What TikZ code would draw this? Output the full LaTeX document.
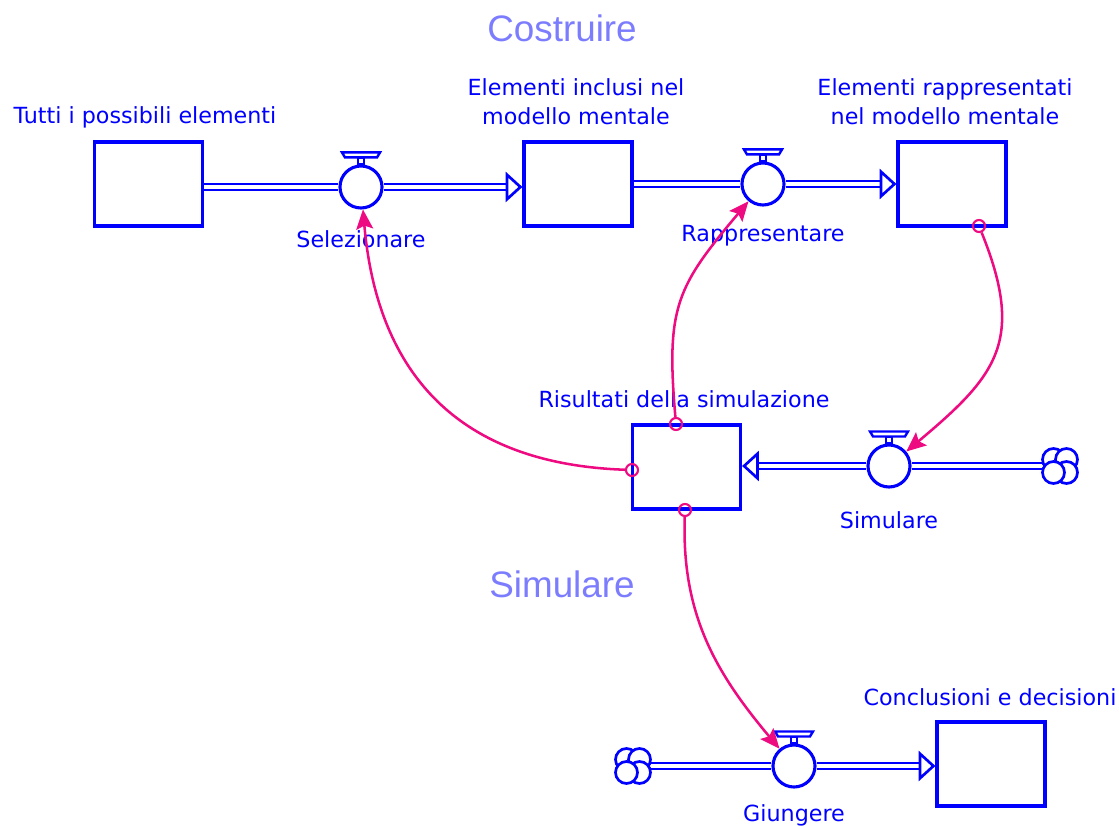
\documentclass[tikz,border=0pt]{standalone}
\usepackage{fontspec}
\setmainfont{DejaVu Sans}
\newfontfamily\headfont{Liberation Sans}
\usetikzlibrary{arrows.meta}
\definecolor{vblue}{RGB}{0,0,255}
\definecolor{vtitle}{RGB}{124,124,255}
\definecolor{vlink}{RGB}{238,10,128}
\tikzset{
	stock/.style={draw=vblue,line width=2.2pt,minimum width=2.7cm,minimum height=2.1cm,inner sep=0},
	valve/.style={circle,draw=vblue,fill=white,line width=2.2pt,minimum size=1.05cm,inner sep=0},
	cloudnode/.style={circle,minimum size=0.9cm,inner sep=0},
	pipe/.style={draw=vblue,double=white,line width=1.9pt,double distance=2.5pt},
	inflow/.style={pipe,-{Triangle[open,length=0.42cm,width=0.75cm]}},
	lbl/.style={text=vblue,font=\fontsize{15.8}{20.6}\selectfont,align=center,inner sep=0},
	title/.style={text=vtitle,font=\headfont\fontsize{26.2}{30}\selectfont,inner sep=0},
	link/.style={draw=vlink,line width=1.8pt,-{Stealth[length=14pt,width=12pt,inset=2.5pt]}},
	linkdot/.style={circle,draw=vlink,line width=1.5pt,minimum size=0.3cm,inner sep=0},
	handle/.pic={
		\draw[vblue,line width=1.7pt,fill=white] (-3,0) rectangle (3,-7);
		\draw[vblue,line width=1.7pt,fill=white] (-16,-7) -- (16,-7) -- (19,-12) -- (-19,-12) -- cycle;
	},
	puff/.pic={
		\draw[vblue,line width=1.9pt,fill=white] (-6.5,-6.5) circle (11);
		\draw[vblue,line width=1.9pt,fill=white] (6.5,-6.5) circle (11);
		\draw[vblue,line width=1.9pt,fill=white] (6.5,6.5) circle (11);
		\draw[vblue,line width=1.9pt,fill=white] (-6.5,6.5) circle (11);
	}
}
\begin{document}
\begin{tikzpicture}[x=0.025cm,y=-0.025cm]
	\useasboundingbox (0,0) rectangle (1119,826);
	% titles
	\node[title] (tcos) at (562,28) {Costruire};
	\node[title] (tsim) at (562,584) {Simulare};
	% stocks
	\node[stock] (s1) at (148.5,184) {};
	\node[stock] (s2) at (578,184) {};
	\node[stock] (s3) at (952,184) {};
	\node[stock] (s4) at (686.5,467) {};
	\node[stock] (s5) at (991,764) {};
	\node[lbl] (ls1) at (145,117) {Tutti i possibili elementi};
	\node[lbl] (ls2) at (576,102) {Elementi inclusi nel\\modello mentale};
	\node[lbl] (ls3) at (945,102) {Elementi rappresentati\\nel modello mentale};
	\node[lbl] (ls4) at (684,399) {Risultati della simulazione};
	\node[lbl] (ls5) at (990,697) {Conclusioni e decisioni};
	% clouds
	\node[cloudnode] (c1) at (1060,466) {};
	\node[cloudnode] (c2) at (633,766) {};
	\pic at (c1) {puff};
	\pic at (c2) {puff};
	% flows
	\node[valve] (v1) at (361,187) {};
	\node[valve] (v2) at (763,184) {};
	\node[valve] (v3) at (889,466) {};
	\node[valve] (v4) at (794,766) {};
	\draw[pipe] (s1.east |- v1) -- (v1);
	\draw[inflow] (v1) -- (s2.west |- v1);
	\draw[pipe] (s2.east |- v2) -- (v2);
	\draw[inflow] (v2) -- (s3.west |- v2);
	\draw[pipe] (c1) -- (v3);
	\draw[inflow] (v3) -- (s4.east |- v3);
	\draw[pipe] (c2) -- (v4);
	\draw[inflow] (v4) -- (s5.west |- v4);
	\foreach \v in {v1,v2,v3,v4}
		\pic at (\v.north) {handle};
	\node[lbl] (lv1) at (361,239) {Selezionare};
	\node[lbl] (lv2) at (763,236) {Rappresentare};
	\node[lbl] (lv3) at (889,520) {Simulare};
	\node[lbl] (lv4) at (794,815) {Giungere};
	% links
	\node[linkdot] (d1) at (632,470) {};
	\node[linkdot] (d2) at (676,424) {};
	\node[linkdot] (d3) at (979,226) {};
	\node[linkdot] (d4) at (685,510) {};
	\draw[link] (d1) to[out=178,in=-85,looseness=1.15] (v1);
	\draw[link] (d2) to[out=95,in=-130,looseness=1.25] (v2);
	\draw[link] (d3) to[out=-68,in=40,looseness=1.3] (v3);
	\draw[link] (d4) to[out=-92,in=130] (v4);
\end{tikzpicture}
\end{document}
